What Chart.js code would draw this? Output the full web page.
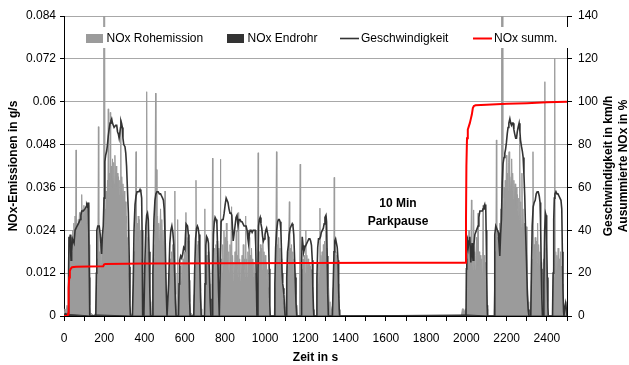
<!DOCTYPE html>
<html lang="de">
<head>
<meta charset="UTF-8">
<title>NOx-Emissionen und Geschwindigkeit</title>
<script src="https://cdn.jsdelivr.net/npm/chart.js"></script>
<style>
  html, body { margin: 0; padding: 0; background: #fff; }
  #wrap { width: 629px; height: 365px; }
</style>
</head>
<body>
<div id="wrap"><canvas id="nox" width="629" height="365"></canvas></div>
<script>
// Zeitachse / Achsenbeschriftung
const zeitTicks = [0, 200, 400, 600, 800, 1000, 1200, 1400, 1600, 1800, 2000, 2200, 2400];
const emissionTicks = [0, 0.012, 0.024, 0.036, 0.048, 0.06, 0.072, 0.084];
const geschwTicks = [0, 20, 40, 60, 80, 100, 120, 140];

// NOx Rohemission [s, g/s]
const rohemission = [
  [0,0],[5,0.002],[10,0.001],[15,0.003],[20,0.001],[22,0.012],[25,0.022],[28,0.014],[31,0.021],[34,0.016],
  [37,0.022],[40,0.018],[43,0.024],[46,0.02],[49,0.026],[52,0.021],[55,0.028],[58,0.022],[60,0.0465],[62,0.024],
  [65,0.026],[68,0.023],[71,0.027],[74,0.025],[77,0.029],[80,0.026],[83,0.029],[86,0.027],[88,0.034],[90,0.027],
  [93,0.03],[96,0.028],[99,0.031],[102,0.027],[105,0.03],[108,0.028],[111,0.031],[114,0.026],[117,0.03],[120,0.029],
  [123,0.031],[126,0.02],[128,0.003],[131,0.001],
  [150,0],[158,0.001],[162,0.01],[165,0.016],[168,0.012],[171,0.053],[173,0.014],[176,0.018],[179,0.013],[182,0.02],
  [185,0.015],[188,0.022],[191,0.017],[194,0.024],[197,0.02],[198,0.1],[202,0.1],[204,0.03],[207,0.026],[210,0.035],
  [213,0.03],[216,0.038],[218,0.033],[220,0.058],[222,0.035],[225,0.04],[228,0.034],[230,0.057],[232,0.036],[235,0.042],
  [238,0.036],[241,0.044],[244,0.038],[247,0.043],[250,0.037],[253,0.045],[256,0.038],[259,0.042],[262,0.036],[265,0.04],
  [268,0.035],[271,0.039],[274,0.034],[277,0.038],[280,0.035],[282,0.055],[284,0.036],[287,0.039],[290,0.034],[293,0.037],
  [296,0.032],[299,0.035],[302,0.03],[305,0.032],[308,0.026],[311,0.028],[314,0.02],[317,0.022],[320,0.012],[323,0.008],
  [326,0.003],[330,0.001],
  [338,0],[342,0.004],[345,0.012],[348,0.018],[351,0.014],[354,0.022],[358,0.046],[360,0.02],[363,0.026],[366,0.021],
  [369,0.028],[372,0.022],[375,0.027],[378,0.02],[381,0.024],[384,0.016],[387,0.012],[390,0.004],[393,0.001],
  [396,0],[400,0.006],[403,0.015],[406,0.012],[409,0.02],[411,0.0628],[413,0.018],[416,0.022],[419,0.015],[422,0.018],
  [425,0.01],[428,0.004],[431,0.001],
  [436,0],[440,0.005],[443,0.014],[446,0.02],[449,0.016],[452,0.024],[455,0.0624],[457,0.022],[460,0.041],[462,0.024],
  [465,0.028],[468,0.022],[471,0.026],[474,0.021],[477,0.025],[480,0.03],[483,0.023],[486,0.027],[489,0.02],[492,0.024],
  [495,0.018],[498,0.021],[500,0.014],[502,0.035],[504,0.012],[507,0.006],[510,0.002],[513,0],
  [515,0],[519,0.005],[522,0.012],[525,0.009],[528,0.016],[531,0.012],[534,0.018],[537,0.014],[540,0.02],[543,0.015],
  [546,0.019],[549,0.014],[551,0.035],[553,0.012],[556,0.006],[559,0.002],
  [562,0],[565,0.027],[567,0.004],[571,0.008],[574,0.012],[577,0.009],[580,0.014],[583,0.01],[586,0.015],[589,0.011],
  [592,0.016],[595,0.012],[598,0.018],[601,0.014],[604,0.02],[606,0.029],[608,0.018],[611,0.022],[614,0.017],[617,0.021],
  [620,0.015],[623,0.01],[626,0.004],[629,0.001],
  [643,0],[647,0.006],[650,0.014],[653,0.011],[656,0.038],[658,0.016],[661,0.02],[664,0.015],[667,0.021],[670,0.016],
  [673,0.019],[676,0.012],[679,0.007],[682,0.002],[685,0],
  [696,0],[700,0.03],[702,0.008],[705,0.014],[708,0.011],[711,0.017],[714,0.013],[717,0.018],[720,0.014],[723,0.016],
  [726,0.009],[729,0.004],[732,0.001],
  [735,0],[738,0.0442],[740,0.01],[743,0.015],[746,0.012],[749,0.019],[752,0.014],[755,0.02],[758,0.015],[761,0.021],
  [764,0.016],[767,0.019],[770,0.012],[773,0.005],[776,0.001],
  [777,0],[778,0.0439],[780,0.012],[783,0.016],[786,0.012],[789,0.02],[792,0.014],[795,0.024],[798,0.016],[801,0.022],
  [804,0.015],[807,0.026],[810,0.017],[813,0.021],[816,0.013],[819,0.018],[822,0.012],[825,0.02],[828,0.014],[833,0.0306],
  [835,0.013],[838,0.017],[841,0.01],[844,0.015],[847,0.011],[850,0.018],[853,0.012],[856,0.024],[859,0.013],[862,0.017],
  [865,0.011],[868,0.029],[870,0.012],[873,0.016],[876,0.01],[879,0.015],[882,0.011],[885,0.017],[888,0.012],[891,0.02],
  [894,0.013],[897,0.016],[900,0.011],[903,0.028],[905,0.012],[908,0.016],[911,0.011],[914,0.018],[917,0.013],[920,0.022],
  [923,0.014],[926,0.017],[929,0.012],[932,0.019],[935,0.013],[938,0.016],[941,0.011],[944,0.015],[947,0.01],[950,0.012],
  [953,0.007],[956,0.003],[959,0],
  [961,0],[965,0.0457],[967,0.012],[970,0.018],[973,0.013],[976,0.02],[979,0.014],[982,0.019],[985,0.013],[988,0.022],
  [991,0.015],[994,0.018],[997,0.012],[1000,0.017],[1003,0.011],[1006,0.015],[1009,0.01],[1012,0.013],[1015,0.008],[1018,0.005],
  [1021,0.002],[1024,0],
  [1045,0],[1049,0.008],[1052,0.014],[1056,0.046],[1058,0.015],[1061,0.02],[1064,0.014],[1067,0.022],[1070,0.016],[1073,0.019],
  [1076,0.013],[1079,0.016],[1082,0.01],[1085,0.008],[1088,0.005],[1092,0.003],[1096,0.001],[1099,0],
  [1103,0],[1107,0.008],[1110,0.014],[1113,0.011],[1116,0.018],[1120,0.032],[1122,0.014],[1125,0.019],[1128,0.013],[1131,0.02],
  [1134,0.014],[1137,0.018],[1140,0.012],[1143,0.016],[1146,0.01],[1149,0.012],[1152,0.006],[1155,0.003],[1158,0],
  [1170,0],[1174,0.0425],[1176,0.004],[1180,0.009],[1183,0.013],[1186,0.01],[1189,0.016],[1192,0.012],[1195,0.017],[1198,0.012],
  [1202,0.024],[1204,0.013],[1207,0.017],[1210,0.012],[1213,0.016],[1216,0.011],[1219,0.015],[1222,0.011],[1225,0.014],[1228,0.01],
  [1231,0.013],[1234,0.008],[1237,0.005],[1240,0.002],[1244,0],
  [1253,0],[1257,0.007],[1260,0.012],[1263,0.009],[1266,0.015],[1269,0.011],[1272,0.0302],[1274,0.013],[1277,0.017],[1280,0.013],
  [1283,0.018],[1286,0.014],[1289,0.02],[1292,0.015],[1295,0.021],[1298,0.016],[1301,0.028],[1303,0.016],[1306,0.019],[1309,0.013],
  [1312,0.015],[1315,0.008],[1318,0.004],[1322,0],
  [1326,0],[1330,0.002],[1334,0.003],[1338,0.008],[1341,0.013],[1343,0.0388],[1345,0.014],[1348,0.018],[1351,0.013],[1354,0.017],
  [1357,0.012],[1360,0.015],[1363,0.009],[1366,0.005],[1369,0.002],[1372,0],
  [1975,0],[1980,0.002],[1985,0.002],[1990,0.001],[1995,0.002],[1999,0.001],[2001,0.012],[2004,0.016],[2007,0.011],[2010,0.02],
  [2013,0.024],[2015,0.013],[2018,0.018],[2021,0.014],[2025,0.0325],[2027,0.015],[2030,0.019],[2033,0.013],[2036,0.0297],[2038,0.014],
  [2041,0.018],[2044,0.013],[2047,0.017],[2050,0.022],[2052,0.013],[2055,0.018],[2058,0.0288],[2060,0.014],[2063,0.018],[2066,0.013],
  [2069,0.017],[2072,0.012],[2075,0.016],[2078,0.012],[2081,0.018],[2083,0.031],[2085,0.014],[2088,0.017],[2091,0.012],[2094,0.015],
  [2097,0.01],[2100,0.006],[2103,0.002],[2106,0],
  [2136,0],[2140,0.008],[2143,0.018],[2146,0.014],[2149,0.0493],[2151,0.017],[2154,0.022],[2157,0.016],[2160,0.024],[2163,0.018],
  [2166,0.026],[2169,0.02],[2171,0.03],[2173,0.024],[2175,0.1],[2179,0.1],[2181,0.033],[2184,0.027],[2187,0.036],[2190,0.03],
  [2193,0.038],[2196,0.032],[2199,0.045],[2201,0.034],[2204,0.04],[2207,0.035],[2210,0.043],[2212,0.046],[2214,0.036],[2216,0.041],
  [2219,0.034],[2222,0.039],[2225,0.044],[2227,0.035],[2230,0.04],[2233,0.033],[2236,0.038],[2239,0.032],[2242,0.037],[2245,0.031],
  [2248,0.036],[2251,0.03],[2254,0.034],[2257,0.028],[2260,0.033],[2263,0.027],[2265,0.05],[2267,0.028],[2270,0.032],[2273,0.025],
  [2276,0.04],[2278,0.026],[2281,0.03],[2284,0.023],[2287,0.026],[2290,0.02],[2293,0.024],[2296,0.016],[2299,0.025],[2301,0.012],
  [2304,0.008],[2307,0.004],[2310,0.001],[2313,0],
  [2319,0],[2323,0.01],[2326,0.016],[2329,0.012],[2331,0.046],[2333,0.015],[2336,0.02],[2339,0.015],[2342,0.022],[2345,0.016],
  [2348,0.021],[2351,0.015],[2354,0.026],[2356,0.016],[2359,0.02],[2362,0.014],[2365,0.018],[2368,0.012],[2371,0.015],[2374,0.008],
  [2377,0.004],[2380,0.01],[2383,0.016],[2386,0.013],[2390,0.0656],[2392,0.015],[2395,0.019],[2398,0.013],[2401,0.01],[2404,0.004],
  [2407,0],
  [2426,0],[2430,0.008],[2433,0.014],[2436,0.011],[2439,0.0722],[2441,0.014],[2444,0.018],[2447,0.013],[2450,0.017],[2453,0.012],
  [2456,0.019],[2459,0.013],[2462,0.016],[2465,0.011],[2468,0.018],[2471,0.012],[2474,0.014],[2477,0.009],[2480,0.005],[2483,0.002],
  [2486,0],[2490,0.002],[2495,0.004],[2500,0]
];

// NOx Endrohr [s, g/s] - nach Katalysator, fast null
const endrohr = [
  [0,0],[5,0.0008],[20,0.0004],[60,0.0003],[130,0],[160,0.0003],[330,0],[1370,0],[2000,0.0003],[2106,0],[2500,0]
];

// Geschwindigkeit [s, km/h]
const geschwindigkeit = [
  [0,0],[20,0],[23,22],[25,37],[28,35],[31,38],[33,30],[35,26],[38,30],[42,36],[46,35],[50,34],[55,40],[60,41],[65,42],
  [71,43],[76,44],[80,45],[84,47],[88,49],[96,49],[104,50],[110,51],[113,52],[117,51],[120,53],[122,50],[124,40],[126,18],[128,0],
  [158,0],[161,20],[163,40],[168,42],[175,42],[180,38],[184,33],[187,29],[191,38],[195,42],[199,55],[203,72],[207,75],[212,77],
  [216,80],[220,84],[224,87],[229,90],[233,91],[237,92],[241,90],[245,89],[249,88],[253,88],[257,89],[262,89],[266,86],[270,85],
  [274,83],[278,83],[281,88],[283,91],[286,90],[290,88],[293,83],[297,80],[303,79],[307,76],[311,70],[315,60],[320,48],[325,23],
  [328,5],[330,0],
  [340,0],[344,15],[348,40],[353,52],[358,56],[363,58],[368,58],[373,58],[378,59],[382,58],[386,55],[388,40],[390,15],[392,0],
  [397,0],[402,25],[407,42],[411,47],[415,48],[419,45],[423,30],[427,10],[430,0],
  [438,0],[442,20],[447,45],[452,54],[457,57],[462,58],[468,58],[474,57],[480,57],[485,56],[490,55],[494,54],[498,50],[503,35],
  [508,12],[512,0],
  [516,0],[520,15],[526,34],[531,40],[536,42],[541,39],[546,33],[550,20],[554,6],[557,0],
  [569,0],[572,15],[575,26],[580,28],[585,27],[590,29],[595,32],[601,31],[604,38],[607,43],[611,43],[614,42],[618,38],[621,25],
  [624,8],[627,0],
  [645,0],[649,20],[654,36],[659,41],[663,42],[667,41],[671,38],[675,25],[679,8],[682,0],
  [698,0],[701,15],[705,33],[709,37],[714,36],[718,34],[722,22],[726,8],[730,0],
  [736,0],[739,20],[743,38],[747,44],[751,46],[756,45],[760,43],[764,30],[768,12],[772,0],
  [774,0],[777,25],[781,44],[786,45],[791,45],[796,48],[801,52],[806,55],[810,55],[815,53],[820,50],[825,48],[830,48],[834,47],
  [838,40],[841,35],[845,38],[850,42],[855,46],[860,47],[865,42],[870,45],[875,45],[880,44],[885,44],[890,43],[895,42],[900,42],
  [905,42],[910,40],[914,36],[917,34],[921,38],[925,40],[930,40],[935,39],[940,40],[945,40],[950,40],[953,33],[956,15],[959,0],
  [962,0],[964,20],[967,42],[971,45],[975,46],[979,43],[983,41],[987,37],[991,35],[995,36],[999,38],[1003,40],[1007,41],[1011,39],
  [1015,37],[1018,30],[1020,22],[1023,5],[1025,0],
  [1045,0],[1048,15],[1052,32],[1057,40],[1062,44],[1066,45],[1070,45],[1074,44],[1078,40],[1081,30],[1084,20],[1087,15],[1090,13],
  [1093,10],[1096,4],[1099,0],
  [1104,0],[1107,18],[1111,30],[1115,33],[1119,38],[1124,41],[1129,42],[1134,43],[1138,42],[1142,38],[1145,30],[1149,18],[1153,6],
  [1157,0],
  [1178,0],[1181,25],[1184,37],[1188,33],[1192,30],[1197,32],[1202,33],[1207,34],[1212,35],[1217,36],[1222,36],[1226,35],[1230,33],
  [1234,26],[1237,12],[1240,3],[1242,0],
  [1253,0],[1257,18],[1261,32],[1265,36],[1270,36],[1275,37],[1279,39],[1284,40],[1289,41],[1293,43],[1297,46],[1302,47],[1305,44],
  [1308,28],[1311,10],[1314,0],
  [1334,0],[1338,15],[1342,30],[1346,35],[1350,36],[1354,34],[1358,32],[1362,26],[1365,12],[1368,3],[1370,0],
  [1998,0],[2000,22],[2002,35],[2005,36],[2009,32],[2013,35],[2017,37],[2020,30],[2022,25],[2025,30],[2028,34],[2031,28],[2033,26],
  [2037,33],[2042,38],[2046,39],[2050,40],[2054,41],[2058,42],[2062,46],[2067,49],[2071,49],[2075,49],[2079,49],[2083,50],[2087,51],
  [2091,52],[2094,50],[2096,52],[2098,40],[2101,20],[2103,5],[2105,0],
  [2138,0],[2140,20],[2142,38],[2146,42],[2150,41],[2154,40],[2158,39],[2162,34],[2166,28],[2170,38],[2174,45],[2178,62],[2182,71],
  [2187,74],[2191,76],[2195,78],[2199,81],[2203,85],[2207,88],[2211,90],[2216,92],[2220,90],[2224,89],[2228,90],[2232,90],[2236,87],
  [2240,85],[2245,83],[2249,83],[2253,86],[2257,88],[2262,90],[2266,86],[2269,82],[2274,79],[2278,77],[2282,74],[2286,66],[2290,56],
  [2294,40],[2299,25],[2303,10],[2307,3],[2311,0],
  [2320,0],[2323,20],[2327,42],[2332,51],[2337,53],[2342,54],[2347,57],[2352,58],[2357,58],[2362,56],[2366,53],[2369,42],[2372,22],
  [2375,8],[2378,0],[2382,0],[2385,15],[2389,40],[2393,48],[2396,47],[2399,35],[2402,18],[2405,4],[2407,0],
  [2428,0],[2431,20],[2434,45],[2437,55],[2440,57],[2445,58],[2450,57],[2455,57],[2460,56],[2465,55],[2470,54],[2474,50],[2477,30],
  [2480,12],[2483,2],[2485,0],[2489,4],[2493,6],[2497,3],[2500,0]
];

// aufsummierte NOx-Emission [s, %]
const noxSumm = [
  [0,0],[18,0],[20,1],[22,6],[24,13],[26,18],[29,21],[33,22],[40,22.8],[60,23],[120,23.1],[195,23.2],[199,24],[205,24.3],
  [400,24.5],[800,24.6],[1200,24.7],[1600,24.8],[1996,24.9],[1998,45],[2000,70],[2003,83],[2007,87],[2012,88.5],[2017,90],
  [2022,92],[2027,94],[2032,97],[2037,98],[2045,98.3],[2100,98.6],[2200,99],[2300,99.3],[2400,99.7],[2500,100]
];

const FONT = "'Liberation Sans', Arial, sans-serif";

// Legende im Diagramm (weißer Kasten über den Daten)
const legendBox = {
  id: 'legendBox',
  afterDatasetsDraw(chart) {
    const ctx = chart.ctx;
    const ds = chart.data.datasets;
    ctx.save();
    ctx.fillStyle = '#fff';
    ctx.fillRect(71, 27, 500, 21);
    ctx.font = '12px ' + FONT;
    ctx.textBaseline = 'middle';
    ctx.fillStyle = '#000';
    const y = 38.5;
    // Rohemission / Endrohr als Flächen, Geschwindigkeit / Summe als Linien
    const items = [
      { ds: ds[3], x: 86, kind: 'box' },
      { ds: ds[2], x: 227, kind: 'box' },
      { ds: ds[1], x: 340, kind: 'line' },
      { ds: ds[0], x: 473, kind: 'line' }
    ];
    items.forEach(it => {
      if (it.kind === 'box') {
        ctx.fillStyle = it.ds.backgroundColor;
        ctx.fillRect(it.x, y - 4.5, 17, 9);
      } else {
        ctx.strokeStyle = it.ds.borderColor;
        ctx.lineWidth = it.ds.borderWidth;
        ctx.beginPath();
        ctx.moveTo(it.x, y);
        ctx.lineTo(it.x + 19, y);
        ctx.stroke();
      }
      ctx.fillStyle = '#000';
      ctx.fillText(it.ds.label, it.x + (it.kind === 'box' ? 20.5 : 21), y);
    });
    ctx.restore();
  }
};

// Hinweis Parkpause und rechte Achsentitel
const beschriftung = {
  id: 'beschriftung',
  afterDraw(chart) {
    const ctx = chart.ctx;
    const xs = chart.scales.x, ys = chart.scales.y;
    ctx.save();
    ctx.font = 'bold 12px ' + FONT;
    ctx.fillStyle = '#000';
    ctx.textAlign = 'center';
    ctx.textBaseline = 'middle';
    const px = xs.getPixelForValue(1660);
    ctx.fillText('10 Min', px, ys.getPixelForValue(0.0314));
    ctx.fillText('Parkpause', px, ys.getPixelForValue(0.0264));

    const cy = (chart.chartArea.top + chart.chartArea.bottom) / 2;
    ['Geschwindigkeit in km/h', 'Ausummierte NOx in %'].forEach((t, i) => {
      ctx.save();
      ctx.translate(609 + i * 15, cy);
      ctx.rotate(-Math.PI / 2);
      ctx.fillText(t, 0, 0);
      ctx.restore();
    });
    ctx.restore();
  }
};

new Chart(document.getElementById('nox'), {
  type: 'line',
  data: {
    datasets: [
      {
        label: 'NOx summ.',
        data: noxSumm,
        yAxisID: 'y1',
        borderColor: '#ff0000',
        borderWidth: 2,
        pointRadius: 0,
        fill: false,
        order: 0
      },
      {
        label: 'Geschwindigkeit',
        data: geschwindigkeit,
        yAxisID: 'y1',
        borderColor: '#333333',
        borderWidth: 1.6,
        pointRadius: 0,
        fill: false,
        order: 1
      },
      {
        label: 'NOx Endrohr',
        data: endrohr,
        yAxisID: 'y',
        borderColor: '#333333',
        backgroundColor: '#333333',
        borderWidth: 1,
        pointRadius: 0,
        fill: 'origin',
        order: 2
      },
      {
        label: 'NOx Rohemission',
        data: rohemission,
        yAxisID: 'y',
        borderColor: '#9b9b9b',
        backgroundColor: '#9b9b9b',
        borderWidth: 1,
        pointRadius: 0,
        fill: 'origin',
        order: 3
      }
    ]
  },
  options: {
    responsive: false,
    animation: false,
    events: [],
    layout: { padding: { top: 16, left: 0, right: 0, bottom: 0 } },
    elements: { line: { tension: 0 } },
    plugins: {
      legend: { display: false },
      tooltip: { enabled: false }
    },
    scales: {
      x: {
        type: 'linear',
        min: 0,
        max: 2500,
        afterFit: s => { s.height = 49; },
        ticks: {
          stepSize: 100,
          autoSkip: false,
          maxRotation: 0,
          padding: 10,
          color: '#000',
          font: { family: FONT, size: 12 },
          callback: v => zeitTicks.includes(v) ? String(v) : ''
        },
        grid: { display: true, drawOnChartArea: false, tickLength: 5, tickColor: '#000' },
        border: { color: '#000', width: 1 },
        title: {
          display: true,
          text: 'Zeit in s',
          color: '#000',
          font: { family: FONT, size: 12, weight: 'bold' },
          padding: { top: 0, bottom: 0 }
        }
      },
      y: {
        position: 'left',
        min: 0,
        max: 0.084,
        afterFit: s => { s.width = 64; },
        afterBuildTicks: s => { s.ticks = emissionTicks.map(v => ({ value: v })); },
        ticks: {
          padding: 4,
          color: '#000',
          font: { family: FONT, size: 12 },
          callback: v => String(parseFloat(v.toFixed(3)))
        },
        grid: { color: '#a8a8a8', lineWidth: 1, tickLength: 4, tickColor: '#000' },
        border: { color: '#000', width: 1 },
        title: {
          display: true,
          text: 'NOx-Emissionen in g/s',
          color: '#000',
          font: { family: FONT, size: 12, weight: 'bold' },
          padding: { top: 6, bottom: 0 }
        }
      },
      y1: {
        position: 'right',
        min: 0,
        max: 140,
        afterFit: s => { s.width = 62; },
        afterBuildTicks: s => { s.ticks = geschwTicks.map(v => ({ value: v })); },
        ticks: {
          padding: 6,
          color: '#000',
          font: { family: FONT, size: 12 },
          callback: v => String(v)
        },
        grid: { display: true, drawOnChartArea: false, tickLength: 5, tickColor: '#000' },
        border: { color: '#000', width: 1 }
      }
    }
  },
  plugins: [legendBox, beschriftung]
});
</script>
</body>
</html>
